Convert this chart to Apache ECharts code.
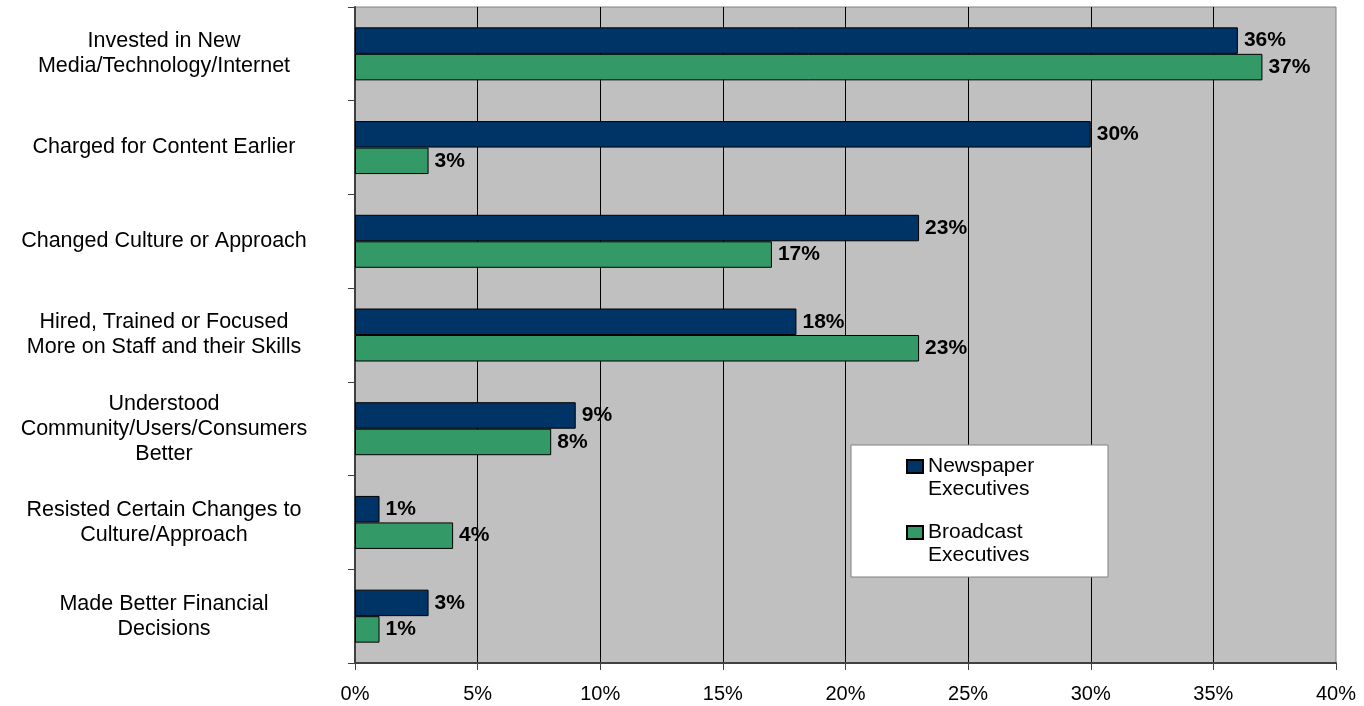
<!DOCTYPE html>
<html>
<head>
<meta charset="utf-8">
<script src="https://cdn.jsdelivr.net/npm/echarts@6/dist/echarts.min.js"></script>
<style>
  html, body { margin: 0; padding: 0; background: #fff; }
  #chart { width: 1364px; height: 706px; }
</style>
</head>
<body>
<div id="chart"></div>
<script>
// categories top to bottom
const categories = [
  'Invested in New\nMedia/Technology/Internet',
  'Charged for Content Earlier',
  'Changed Culture or Approach',
  'Hired, Trained or Focused\nMore on Staff and their Skills',
  'Understood\nCommunity/Users/Consumers\nBetter',
  'Resisted Certain Changes to\nCulture/Approach',
  'Made Better Financial\nDecisions'
];
const newspaper = [36, 30, 23, 18, 9, 1, 3];
const broadcast = [37, 3, 17, 23, 8, 4, 1];
const seriesNames = ['Newspaper\nExecutives', 'Broadcast\nExecutives'];

const font = 'Liberation Sans, Arial, sans-serif';
const chart = echarts.init(document.getElementById('chart'));

const barLabel = {
  show: true,
  position: 'right',
  distance: 6,
  formatter: '{c}%',
  fontFamily: font,
  fontSize: 21,
  fontWeight: 'bold',
  color: '#000'
};

const option = {
  animation: false,
  grid: {
    left: 355,
    right: 28,
    top: 7,
    bottom: 43,
    show: true,
    backgroundColor: '#C0C0C0',
    borderColor: '#808080',
    borderWidth: 1
  },
  graphic: [{
    type: 'rect',
    z: 3,
    shape: { x: 851, y: 445, width: 257, height: 132 },
    style: { fill: '#fff', stroke: '#808080', lineWidth: 1 }
  }],
  legend: {
    z: 5,
    orient: 'vertical',
    left: 906,
    top: 432,
    padding: 0,
    itemGap: -3,
    itemWidth: 16,
    itemHeight: 13,
    icon: 'rect',
    data: seriesNames,
    // empty first line keeps the icon level with the first text line
    formatter: name => '\n' + name,
    textStyle: {
      fontFamily: font,
      fontSize: 21,
      color: '#000',
      lineHeight: 23
    }
  },
  xAxis: {
    type: 'value',
    min: 0,
    max: 40,
    interval: 5,
    axisLine: { show: true, lineStyle: { color: '#404040', width: 2 } },
    axisTick: { show: true, length: 7, lineStyle: { color: '#404040' } },
    axisLabel: {
      formatter: '{value}%',
      fontFamily: font,
      fontSize: 20,
      color: '#000',
      margin: 21
    },
    splitLine: {
      show: true,
      showMaxLine: false,
      lineStyle: { color: '#000', width: 1 }
    }
  },
  yAxis: {
    type: 'category',
    inverse: true,
    data: categories,
    axisLine: { show: true, lineStyle: { color: '#404040', width: 2 } },
    axisTick: { show: true, length: 7, lineStyle: { color: '#404040' } },
    axisLabel: {
      fontFamily: font,
      fontSize: 21.5,
      lineHeight: 25,
      color: '#000',
      align: 'center',
      margin: 191
    }
  },
  series: [
    {
      name: seriesNames[0],
      type: 'bar',
      data: newspaper,
      barWidth: 26.5,
      barGap: '0%',
      itemStyle: { color: '#003366', borderColor: '#000', borderWidth: 1 },
      label: barLabel
    },
    {
      name: seriesNames[1],
      type: 'bar',
      data: broadcast,
      barWidth: 26.5,
      barGap: '0%',
      itemStyle: { color: '#339966', borderColor: '#000', borderWidth: 1 },
      label: barLabel
    }
  ]
};

chart.setOption(option);
</script>
</body>
</html>
